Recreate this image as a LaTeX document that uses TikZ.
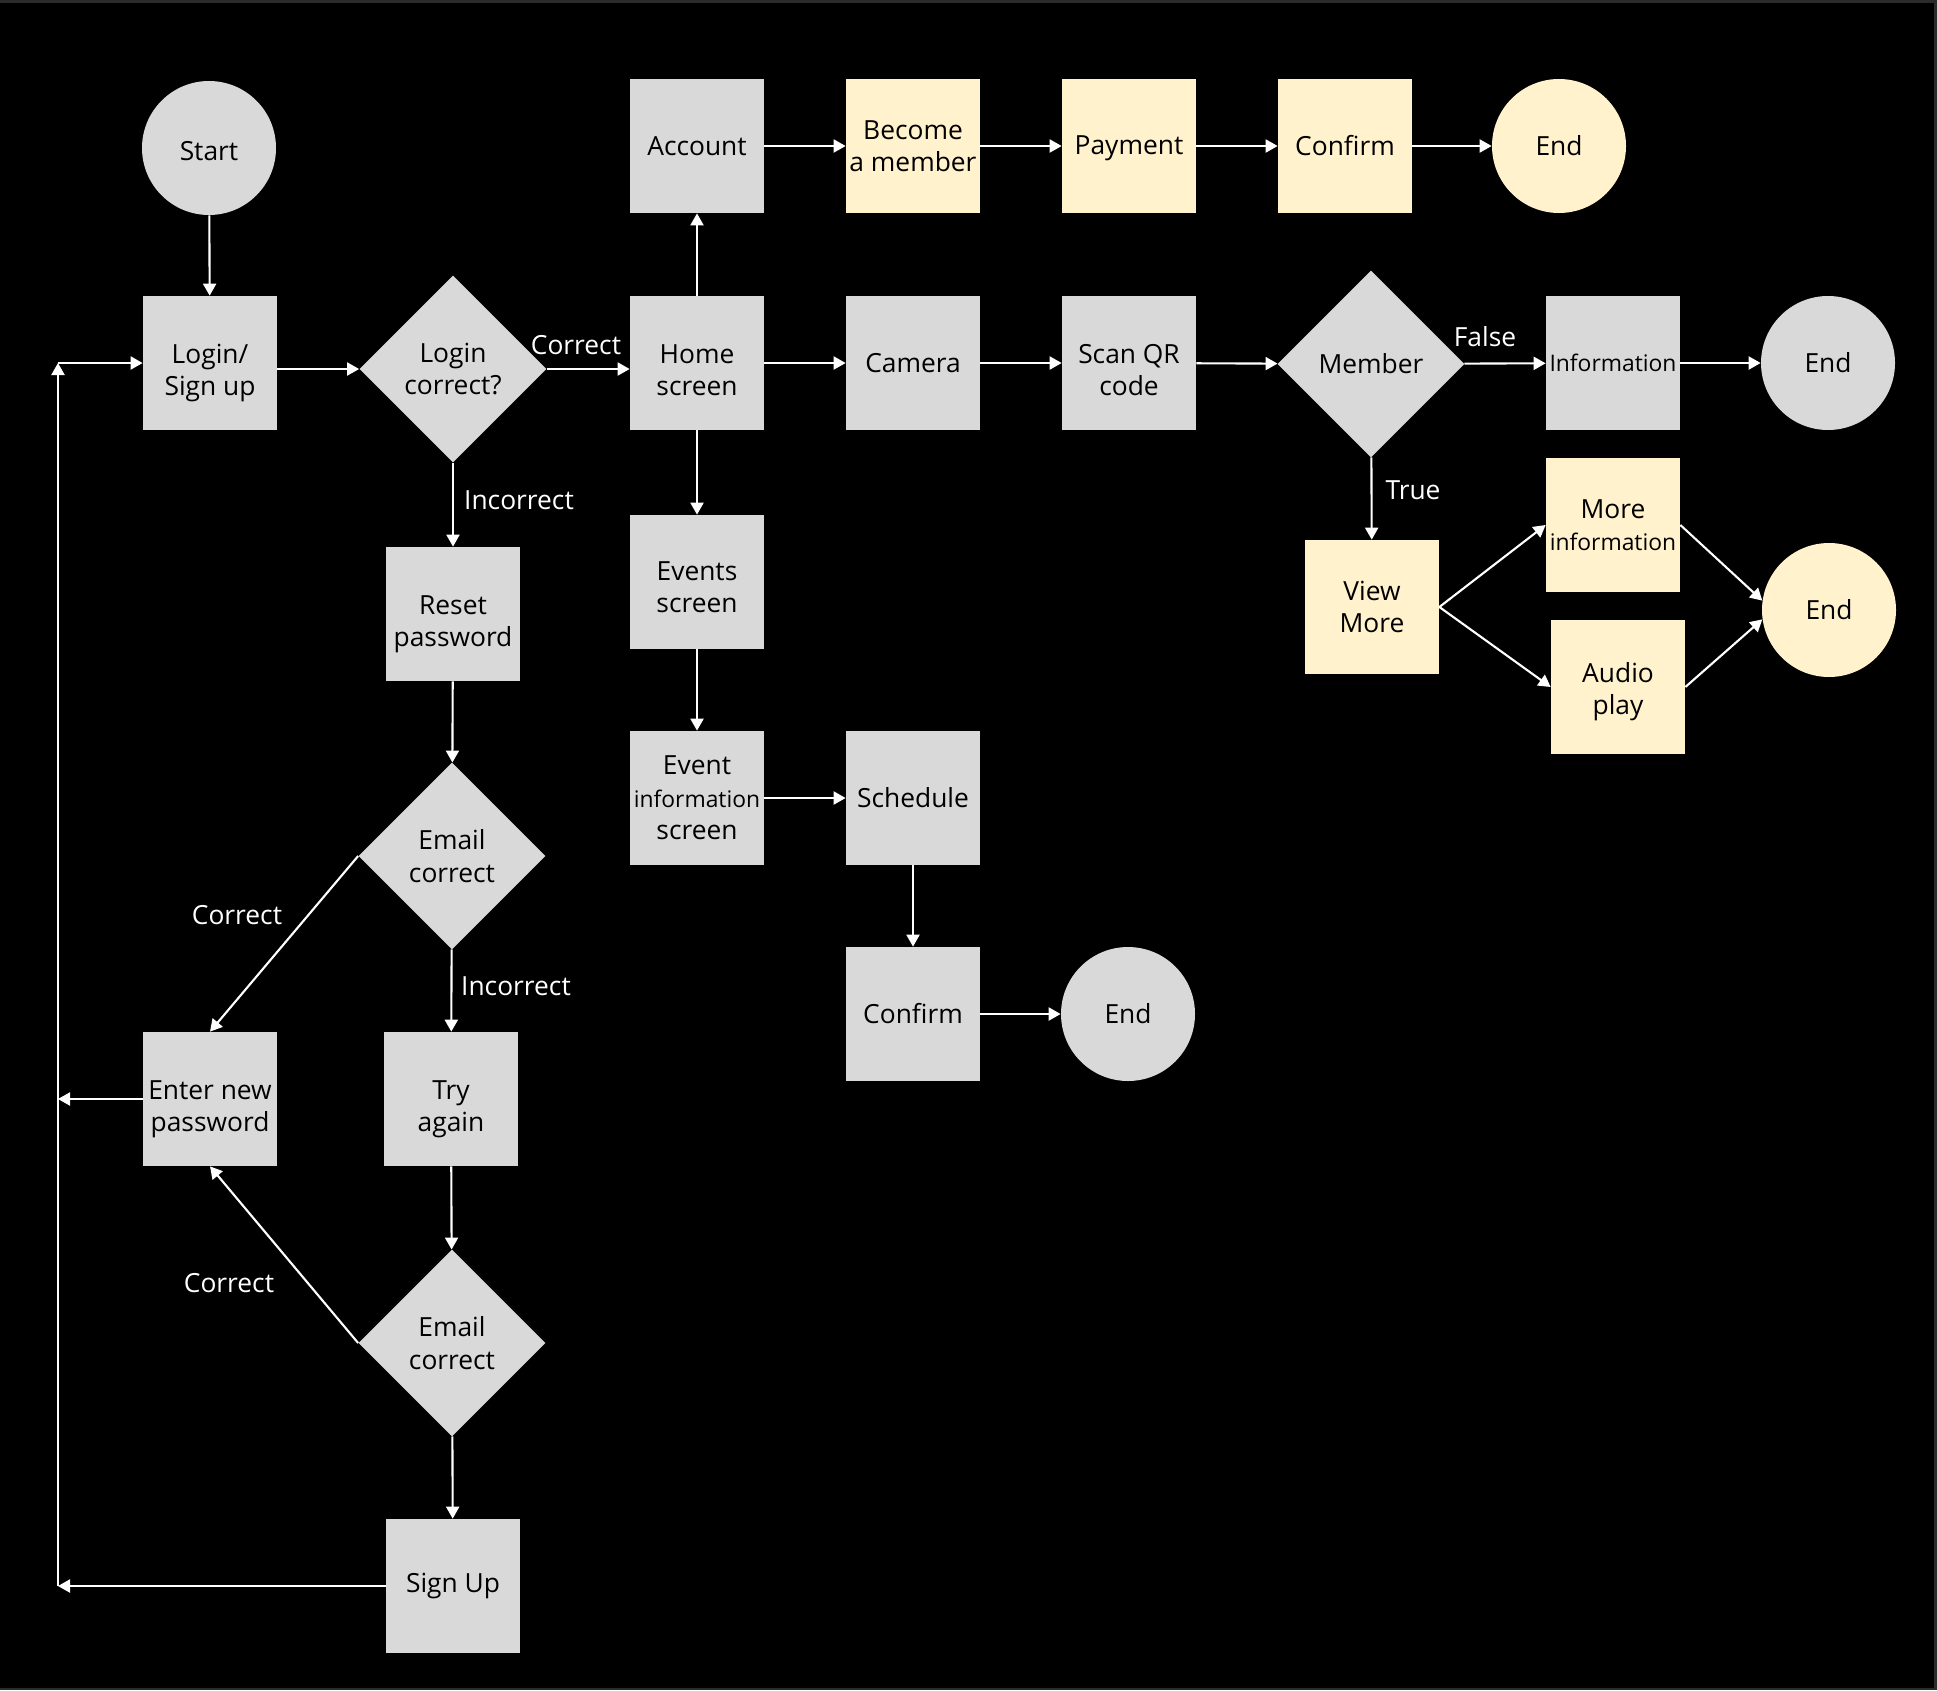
\documentclass[tikz,border=0pt]{standalone}
\usepackage{fontspec}
\setmainfont{Open Sans}
\usetikzlibrary{shapes.geometric,arrows.meta}
\definecolor{boxgray}{HTML}{D9D9D9}
\definecolor{boxyellow}{HTML}{FFF2CC}
\definecolor{framegray}{HTML}{2B2B2B}
\newcommand{\normtext}{\fontsize{15}{18.5}\selectfont}
\newcommand{\smalltext}{\fontsize{13}{18.5}\selectfont}
% text set a bit lower in its box
\newcommand{\shiftdown}[2][0.2cm]{\raisebox{-#1}[\height][\depth]{\begin{tabular}{@{}c@{}}#2\end{tabular}}}
\tikzset{
  box/.style={rectangle, fill=boxgray, text=black, minimum size=2.68cm, inner sep=0pt, align=center, font=\normtext},
  ybox/.style={box, fill=boxyellow},
  term/.style={circle, fill=boxgray, text=black, minimum size=2.68cm, inner sep=0pt, font=\normtext},
  yterm/.style={term, fill=boxyellow},
  decision/.style={diamond, aspect=1, fill=boxgray, text=black, minimum size=3.74cm, inner sep=0pt, align=center, font=\normtext},
  arr/.style={draw=white, line width=1.2pt, -{Triangle[length=0.24cm,width=0.26cm]}},
  lbl/.style={text=white, font=\normtext}
}
\begin{document}
\begin{tikzpicture}
        % frame and background
        \fill[framegray] (0,0) rectangle (38.74,-33.80);
        \fill[black] (0,-0.06) rectangle (38.68,-33.76);
        \useasboundingbox (0,0) rectangle (38.74,-33.80);

        % login part
        \node[term] (start) at (4.18,-2.96) {\shiftdown[0.12cm]{Start}};
        \node[box] (login) at (4.20,-7.26) {\shiftdown{Login/\\Sign up}};
        \node[decision] (loginq) at (9.06,-7.38) {Login\\correct?};
        \node[box] (reset) at (9.06,-12.28) {\shiftdown{Reset\\password}};
        \node[decision] (email1) at (9.04,-17.12) {Email\\correct};
        \node[box] (tryagain) at (9.02,-21.98) {\shiftdown{Try\\again}};
        \node[box] (enternew) at (4.20,-21.98) {\shiftdown{Enter new\\password}};
        \node[decision] (email2) at (9.04,-26.86) {Email\\correct};
        \node[box] (signup) at (9.06,-31.72) {Sign Up};
        \coordinate (looptop) at (1.16,-7.26);
        \coordinate (loopmid) at (1.16,-21.98);
        \coordinate (loopbot) at (1.16,-31.72);

        % home and account
        \node[box] (home) at (13.94,-7.26) {\shiftdown{Home\\screen}};
        \node[box] (account) at (13.94,-2.92) {Account};
        \node[ybox] (become) at (18.26,-2.92) {Become\\a member};
        \node[ybox] (payment) at (22.58,-2.92) {\shiftdown[0.04cm]{Payment}};
        \node[ybox] (confirma) at (26.90,-2.92) {Confirm};
        \node[yterm] (enda) at (31.18,-2.92) {End};

        % camera and member
        \node[box] (camera) at (18.26,-7.26) {Camera};
        \node[box] (scan) at (22.58,-7.26) {\shiftdown{Scan QR\\code}};
        \node[decision] (member) at (27.42,-7.28) {Member};
        \node[box, font=\smalltext] (info) at (32.26,-7.26) {Information};
        \node[term] (endb) at (36.56,-7.26) {End};
        \node[ybox] (viewmore) at (27.44,-12.14) {View\\More};
        \node[ybox] (moreinfo) at (32.26,-10.50) {More\\{\smalltext information}};
        \node[ybox] (audio) at (32.36,-13.74) {\shiftdown[0.1cm]{Audio\\play}};
        \node[yterm] (endc) at (36.58,-12.20) {End};

        % events
        \node[box] (events) at (13.94,-11.64) {\shiftdown[0.16cm]{Events\\screen}};
        \node[box] (eventinfo) at (13.94,-15.96) {Event\\{\smalltext information}\\screen};
        \node[box] (schedule) at (18.26,-15.96) {Schedule};
        \node[box] (confirmb) at (18.26,-20.28) {Confirm};
        \node[term] (endd) at (22.56,-20.28) {End};

        % labels
        \node[lbl] (lcorrecta) at (11.52,-6.90) {Correct};
        \node[lbl] (lincorrecta) at (10.38,-10.00) {Incorrect};
        \node[lbl] (lcorrectb) at (4.74,-18.30) {Correct};
        \node[lbl] (lincorrectb) at (10.32,-19.72) {Incorrect};
        \node[lbl] (lcorrectc) at (4.58,-25.66) {Correct};
        \node[lbl] (lfalse) at (29.70,-6.74) {False};
        \node[lbl] (ltrue) at (28.26,-9.80) {True};

        % connectors
        \draw[arr] (start) -- (login);
        \draw[arr] (login.east |- loginq) -- (loginq.west);
        \draw[arr] (loginq.east) -- (home.west |- loginq.east);
        \draw[arr] (loginq) -- (reset);
        \draw[arr] (reset) -- (email1);
        \draw[arr] (email1.west) -- (enternew.north);
        \draw[arr] (email1) -- (tryagain);
        \draw[arr] (tryagain) -- (email2);
        \draw[arr] (email2.west) -- (enternew.south);
        \draw[arr] (email2) -- (signup);
        \draw[arr] (enternew.west) -- (loopmid);
        \draw[arr] (signup.west) -- (loopbot);
        \draw[arr] (loopbot) -- (looptop);
        \draw[arr] (looptop) -- (login.west);

        \draw[arr] (home) -- (account);
        \draw[arr] (account) -- (become);
        \draw[arr] (become) -- (payment);
        \draw[arr] (payment) -- (confirma);
        \draw[arr] (confirma) -- (enda);

        \draw[arr] (home) -- (camera);
        \draw[arr] (camera) -- (scan);
        \draw[arr] (scan) -- (member);
        \draw[arr] (member) -- (info);
        \draw[arr] (info) -- (endb);
        \draw[arr] (member) -- (viewmore);
        \draw[arr] (viewmore.east) -- (moreinfo.west);
        \draw[arr] (viewmore.east) -- (audio.west);
        \draw[arr] (moreinfo.east) -- (endc.172);
        \draw[arr] (audio.east) -- (endc.188);

        \draw[arr] (home) -- (events);
        \draw[arr] (events) -- (eventinfo);
        \draw[arr] (eventinfo) -- (schedule);
        \draw[arr] (schedule) -- (confirmb);
        \draw[arr] (confirmb) -- (endd);
\end{tikzpicture}
\end{document}
